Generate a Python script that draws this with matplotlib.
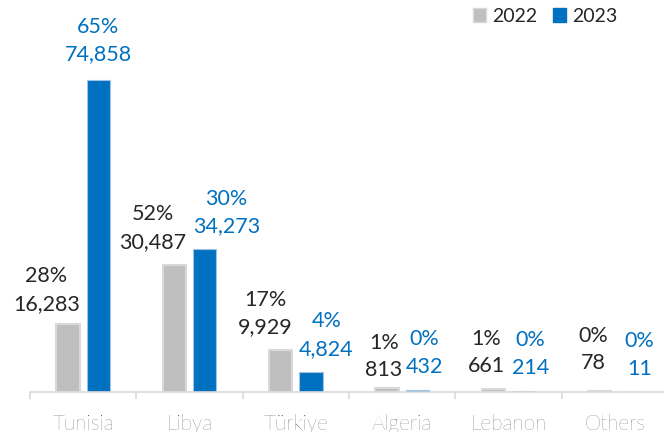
import matplotlib
matplotlib.use("Agg")
import matplotlib.pyplot as plt
import numpy as np
from matplotlib.patches import Patch

plt.rcParams['font.family'] = ['Lato', 'DejaVu Sans']

categories = ["Tunisia", "Libya", "Türkiye", "Algeria", "Lebanon", "Others"]
values_2022 = [16283, 30487, 9929, 813, 661, 78]
values_2023 = [74858, 34273, 4824, 432, 214, 11]
pct_2022 = ["28%", "52%", "17%", "1%", "1%", "0%"]
pct_2023 = ["65%", "30%", "4%", "0%", "0%", "0%"]
series_names = ["2022", "2023"]

# label placement (layout only, mimicking Excel's label positions)
align_2022 = ["right", "right", "right", "center", "right", "right"]
align_2023 = ["center", "left", "left", "left", "left", "left"]
nudge_2022 = [(0, -3), (0, 0), (0, 0), (-3, -5), (0, 0), (-6, 5)]
nudge_2023 = [(0, 3), (0, 0), (0, 0), (0, 0), (0, 0), (9, 0)]

GRAY = "#BFBFBF"
BLUE = "#0070C0"
DARK = "#262626"
FS = 15.5

fig = plt.figure(figsize=(6.64, 4.32), dpi=100)
ax = fig.add_axes([30/664, 40.3/432, 638/664, 391.7/432])

x = np.arange(len(categories))
w = 0.22
off = 0.142
ax.bar(x - off, values_2022, width=w, color=GRAY, edgecolor="#D9D9D9", linewidth=1.5, zorder=2)
ax.bar(x + off, values_2023, width=w, color=BLUE, edgecolor="#9DC3E6", linewidth=0.8, zorder=2)

ax.set_xlim(-0.5, len(categories) - 0.5)
ax.set_ylim(0, 94070)

for s in ["top", "right", "left"]:
    ax.spines[s].set_visible(False)
ax.spines["bottom"].set_color("#D9D9D9")
ax.spines["bottom"].set_linewidth(1.2)
ax.set_yticks([])
ax.set_xticks(x)
ax.set_xticklabels(categories, fontsize=15, color="#404040", fontweight="light")
ax.tick_params(axis="x", which="major", length=0, pad=16)
ax.set_xticks(np.arange(-0.5, len(categories), 1.0), minor=True)
ax.tick_params(axis="x", which="minor", length=5, color="#D9D9D9", width=1.2)

value_texts = []
def add_labels(xs, vals, pcts, aligns, nudges, color):
    for xi, v, p, a, (dx, dy) in zip(xs, vals, pcts, aligns, nudges):
        if a == "right":
            ax_x = xi + w / 2
        elif a == "left":
            ax_x = xi - w / 2
        else:
            ax_x = xi
        t = ax.annotate(f"{v:,}", (ax_x, v), xytext=(dx * 0.72, 16.5 + dy * 0.72),
                        textcoords="offset points",
                        ha=a, va="center", fontsize=FS, color=color)
        value_texts.append((t, p, color))

add_labels(x - off, values_2022, pct_2022, align_2022, nudge_2022, DARK)
add_labels(x + off, values_2023, pct_2023, align_2023, nudge_2023, BLUE)

handles = [Patch(facecolor=GRAY, edgecolor="#D9D9D9"), Patch(facecolor=BLUE, edgecolor=BLUE)]
fig.legend(handles, series_names, loc="center", bbox_to_anchor=(545/664, 1 - 16/432),
           ncol=2, frameon=False, fontsize=14, handlelength=0.7, handleheight=0.7,
           handletextpad=0.3, columnspacing=0.8, labelcolor=DARK)

fig.canvas.draw()
renderer = fig.canvas.get_renderer()
for t, p, color in value_texts:
    bb = t.get_window_extent(renderer)
    cx = (bb.x0 + bb.x1) / 2
    cy = (bb.y0 + bb.y1) / 2
    fig.text(cx, cy + 27.5, p, transform=None, ha="center", va="center",
             fontsize=FS, color=color)

fig.savefig("out.png", dpi=100)
